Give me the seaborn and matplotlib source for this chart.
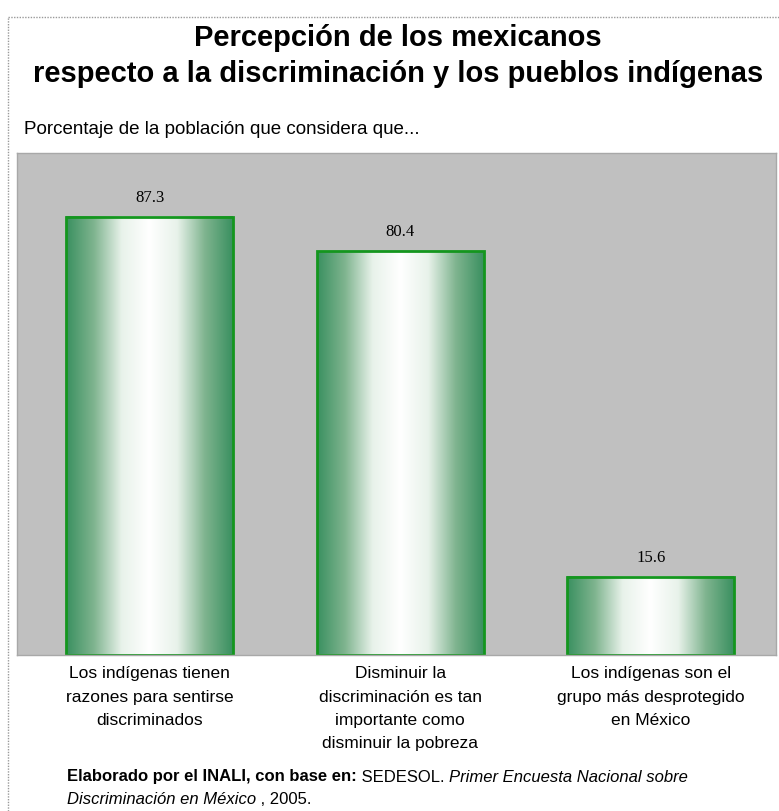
import matplotlib
matplotlib.use("Agg")
import matplotlib.pyplot as plt
import numpy as np
import pandas as pd
import seaborn as sns
from matplotlib.colors import LinearSegmentedColormap

# Datos
categorias = [
    "Los indígenas tienen\nrazones para sentirse\ndiscriminados",
    "Disminuir la\ndiscriminación es tan\nimportante como\ndisminuir la pobreza",
    "Los indígenas son el\ngrupo más desprotegido\nen México",
]
porcentajes = [87.3, 80.4, 15.6]
etiquetas = ["87.3", "80.4", "15.6"]

df = pd.DataFrame({"cat": categorias, "pct": porcentajes})

sns.set_style("white")
plt.rcParams["font.family"] = ["Liberation Sans", "DejaVu Sans"]
plt.rcParams["text.color"] = "black"
plt.rcParams["xtick.color"] = "black"

fig = plt.figure(figsize=(7.79, 8.11), dpi=100)
ax = fig.add_axes([17 / 779, 1 - 655 / 811, (776 - 17) / 779, (655 - 153) / 811])
ax.set_facecolor("#c0c0c0")

sns.barplot(data=df, x="cat", y="pct", ax=ax, width=0.665, color="white",
            edgecolor="#14961e", linewidth=2)

# degradado verde-blanco-verde dentro de cada barra
verde = LinearSegmentedColormap.from_list(
    "g", ["#3a9060", "#7fb48f", "#e8f2ea", "#ffffff", "#e8f2ea", "#7fb48f", "#3a9060"])
grad = np.linspace(0, 1, 256).reshape(1, -1)
for p in ax.patches:
    x0, y0 = p.get_x(), p.get_y()
    w, h = p.get_width(), p.get_height()
    ax.imshow(grad, cmap=verde, aspect="auto", extent=(x0, x0 + w, y0, y0 + h),
              zorder=1.5, interpolation="bilinear")
    p.set_facecolor("none")
    p.set_zorder(2)

for i, v in enumerate(porcentajes):
    ax.text(i, v + 3.8, etiquetas[i], ha="center", va="center", fontsize=12,
            family=["Liberation Serif"], color="black")

ax.set_xlim(-0.53, 2.50)
ax.set_ylim(0, 100)
ax.set_yticks([])
ax.set_xlabel("")
ax.set_ylabel("")
ax.tick_params(axis="x", length=0, pad=8, labelsize=12.5)
for lbl in ax.get_xticklabels():
    lbl.set_linespacing(1.7)
for s in ax.spines.values():
    s.set_color("#a8a8a8")
    s.set_linewidth(1)

# titulos
fig.text(0.511, 1 - 38 / 811, "Percepción de los mexicanos", ha="center", va="center",
         fontsize=21, fontweight="bold")
fig.text(0.511, 1 - 74 / 811, "respecto a la discriminación y los pueblos indígenas",
         ha="center", va="center", fontsize=21, fontweight="bold")
fig.text(24 / 779, 1 - 129 / 811, "Porcentaje de la población que considera que...",
         ha="left", va="center", fontsize=13.5)

# fuente
t1 = fig.text(67 / 779, 1 - 777 / 811, "Elaborado por el INALI, con base en:",
              ha="left", va="center", fontsize=12, fontweight="bold")
t2 = ax.annotate(" SEDESOL. ", xy=(1, 0.5), xycoords=t1, ha="left", va="center",
                 fontsize=12, annotation_clip=False)
ax.annotate("Primer Encuesta Nacional sobre", xy=(1, 0.5), xycoords=t2, ha="left",
            va="center", fontsize=12, style="italic", annotation_clip=False)
t4 = fig.text(67 / 779, 1 - 800 / 811, "Discriminación en México", ha="left",
              va="center", fontsize=12, style="italic")
ax.annotate(" , 2005.", xy=(1, 0.5), xycoords=t4, ha="left", va="center",
            fontsize=12, annotation_clip=False)

# borde punteado
fig.add_artist(plt.Line2D([8 / 779, 1], [1 - 17 / 811] * 2, color="#9a9a9a",
                          lw=1, ls=(0, (1, 1)), transform=fig.transFigure))
fig.add_artist(plt.Line2D([8 / 779] * 2, [0, 1 - 17 / 811], color="#9a9a9a",
                          lw=1, ls=(0, (1, 1)), transform=fig.transFigure))

fig.savefig("out.png", dpi=100)
